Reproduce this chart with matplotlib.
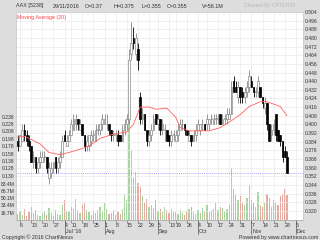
import matplotlib
matplotlib.use('Agg')
import matplotlib.pyplot as plt
import pandas as pd
import numpy as np

plt.rcParams['font.family'] = ['Liberation Sans', 'DejaVu Sans']

# trading days (Bursa Malaysia) from 3 Jun 2016, holidays removed
holidays = ['2016-07-06', '2016-07-07', '2016-08-31', '2016-09-12', '2016-09-16', '2016-10-03']
days = pd.bdate_range('2016-06-03', '2016-12-09')
days = days[~days.isin(pd.to_datetime(holidays))]

opens = [0.385, 0.380, 0.385, 0.395, 0.390, 0.385, 0.380, 0.365, 0.370, 0.360, 0.365,
         0.365, 0.370, 0.370, 0.350, 0.355, 0.360, 0.370, 0.360, 0.365, 0.370, 0.390,
         0.380, 0.385, 0.390, 0.395, 0.400, 0.405, 0.395, 0.400, 0.390, 0.380, 0.380,
         0.385, 0.390, 0.385, 0.395, 0.395, 0.400, 0.400, 0.400, 0.400, 0.395, 0.390,
         0.390, 0.390, 0.390, 0.385, 0.395, 0.400, 0.405, 0.465, 0.480, 0.465, 0.470,
         0.425, 0.405, 0.410, 0.395, 0.385, 0.390, 0.395, 0.410, 0.400, 0.405, 0.395,
         0.395, 0.395, 0.390, 0.385, 0.390, 0.385, 0.390, 0.395, 0.400, 0.400, 0.395,
         0.385, 0.390, 0.385, 0.390, 0.395, 0.395, 0.400, 0.400, 0.400, 0.400, 0.405,
         0.400, 0.405, 0.405, 0.410, 0.400, 0.405, 0.405, 0.405, 0.410, 0.440, 0.435,
         0.425, 0.435, 0.430, 0.425, 0.430, 0.435, 0.440, 0.435, 0.430, 0.430, 0.435,
         0.425, 0.415, 0.420, 0.400, 0.390, 0.395, 0.410, 0.395, 0.390, 0.385, 0.375,
         0.370]
highs = [0.390, 0.390, 0.400, 0.400, 0.395, 0.390, 0.380, 0.375, 0.370, 0.370, 0.375,
         0.375, 0.375, 0.370, 0.365, 0.365, 0.365, 0.370, 0.370, 0.375, 0.390, 0.395,
         0.390, 0.395, 0.405, 0.410, 0.410, 0.405, 0.405, 0.400, 0.390, 0.390, 0.390,
         0.395, 0.395, 0.400, 0.400, 0.400, 0.410, 0.410, 0.410, 0.400, 0.395, 0.395,
         0.395, 0.395, 0.390, 0.400, 0.405, 0.410, 0.470, 0.495, 0.490, 0.485, 0.475,
         0.430, 0.415, 0.410, 0.395, 0.395, 0.400, 0.410, 0.410, 0.410, 0.405, 0.405,
         0.400, 0.395, 0.390, 0.395, 0.395, 0.395, 0.400, 0.405, 0.405, 0.400, 0.395,
         0.395, 0.390, 0.395, 0.400, 0.405, 0.400, 0.405, 0.400, 0.410, 0.405, 0.410,
         0.410, 0.410, 0.410, 0.410, 0.410, 0.410, 0.415, 0.415, 0.440, 0.445, 0.440,
         0.440, 0.435, 0.435, 0.435, 0.440, 0.450, 0.445, 0.435, 0.435, 0.445, 0.435,
         0.425, 0.425, 0.420, 0.400, 0.400, 0.405, 0.410, 0.395, 0.390, 0.385, 0.380,
         0.375]
lows = [0.375, 0.380, 0.385, 0.385, 0.380, 0.375, 0.365, 0.360, 0.355, 0.355, 0.360,
        0.365, 0.365, 0.355, 0.345, 0.350, 0.355, 0.355, 0.355, 0.360, 0.370, 0.385,
        0.380, 0.385, 0.390, 0.395, 0.395, 0.395, 0.395, 0.390, 0.375, 0.375, 0.375,
        0.380, 0.385, 0.385, 0.390, 0.390, 0.395, 0.400, 0.395, 0.390, 0.385, 0.385,
        0.385, 0.380, 0.385, 0.385, 0.390, 0.395, 0.400, 0.460, 0.470, 0.460, 0.450,
        0.400, 0.400, 0.395, 0.380, 0.380, 0.385, 0.395, 0.400, 0.395, 0.390, 0.390,
        0.385, 0.385, 0.380, 0.380, 0.385, 0.385, 0.385, 0.395, 0.395, 0.390, 0.390,
        0.385, 0.380, 0.385, 0.385, 0.395, 0.390, 0.395, 0.395, 0.395, 0.395, 0.400,
        0.400, 0.400, 0.400, 0.400, 0.400, 0.400, 0.400, 0.405, 0.410, 0.430, 0.430,
        0.420, 0.420, 0.420, 0.420, 0.425, 0.430, 0.435, 0.425, 0.425, 0.425, 0.425,
        0.415, 0.410, 0.395, 0.385, 0.385, 0.390, 0.385, 0.385, 0.380, 0.365, 0.370,
        0.355]
closes = [0.380, 0.390, 0.395, 0.390, 0.385, 0.380, 0.365, 0.370, 0.360, 0.365, 0.370,
          0.370, 0.370, 0.360, 0.360, 0.360, 0.365, 0.360, 0.365, 0.370, 0.385, 0.385,
          0.385, 0.390, 0.400, 0.405, 0.405, 0.400, 0.400, 0.390, 0.380, 0.385, 0.390,
          0.390, 0.390, 0.395, 0.395, 0.400, 0.405, 0.405, 0.400, 0.395, 0.390, 0.390,
          0.390, 0.385, 0.385, 0.395, 0.400, 0.405, 0.460, 0.475, 0.475, 0.480, 0.460,
          0.405, 0.410, 0.395, 0.385, 0.390, 0.395, 0.405, 0.400, 0.405, 0.395, 0.400,
          0.395, 0.385, 0.385, 0.390, 0.390, 0.390, 0.395, 0.400, 0.400, 0.395, 0.390,
          0.390, 0.385, 0.390, 0.395, 0.400, 0.400, 0.400, 0.395, 0.405, 0.405, 0.405,
          0.405, 0.405, 0.405, 0.400, 0.405, 0.405, 0.410, 0.410, 0.435, 0.430, 0.430,
          0.435, 0.425, 0.425, 0.430, 0.435, 0.445, 0.435, 0.430, 0.430, 0.440, 0.425,
          0.420, 0.420, 0.400, 0.385, 0.395, 0.400, 0.390, 0.385, 0.385, 0.370, 0.370,
          0.355]
volumes = [14, 20, 12, 25, 10, 18, 30, 15, 22, 12, 9, 16, 20, 12, 28, 15, 10, 24, 14, 12,
           35, 45, 20, 18, 30, 26, 48, 22, 16, 34, 40, 24, 18, 12, 20, 15, 22, 30, 18, 40,
           25, 14, 16, 22, 12, 18, 14, 26, 60, 45, 250, 160, 95, 110, 85, 75, 55, 40, 48,
           30, 35, 28, 45, 20, 26, 18, 30, 22, 16, 25, 20, 18, 14, 22, 16, 12, 20, 25,
           30, 18, 14, 24, 16, 28, 20, 35, 18, 24, 26, 40, 22, 30, 28, 20, 25, 35, 120,
           70, 60, 45, 55, 40, 35, 50, 80, 45, 40, 30, 65, 35, 30, 40, 60, 50, 30, 45,
           40, 35, 55, 60, 72, 58.1]

# moving average (20): day position (0 = 6 Jun), value
ma_idx = [-1, 2, 9, 13, 18, 22, 27, 31, 36, 42, 48, 51, 54, 58, 61, 66, 70, 72, 76,
          85, 90, 94, 99, 103, 108, 111, 117, 120]
ma_val = [0.388, 0.389, 0.382, 0.374, 0.372, 0.374, 0.377, 0.380, 0.387, 0.391,
          0.393, 0.400, 0.416, 0.416, 0.414, 0.415, 0.4065, 0.397, 0.394, 0.394,
          0.397, 0.402, 0.409, 0.4165, 0.421, 0.421, 0.4165, 0.408]

right_ticks = [0.320, 0.328, 0.336, 0.344, 0.352, 0.360, 0.368, 0.376, 0.384, 0.392,
               0.400, 0.408, 0.416, 0.424, 0.432, 0.440, 0.448, 0.456, 0.464, 0.472,
               0.480, 0.488, 0.496, 0.504]
vol_ticks = [16.7, 33.4, 50.1, 66.7, 83.4]
left_labels = ['0.238', '0.228', '0.208', '0.198', '0.178', '0.158', '0.138', '0.128', '0.130']

# position of each trading day, 0 = 6 Jun (first day, 3 Jun, sits at -1)
pos = np.arange(len(days)) - 1
x = pos[:len(closes)]

fig = plt.figure(figsize=(3.2, 2.4), dpi=100, facecolor='#dddddd')
vax = fig.add_axes([16/320, 20/240, 287/320, 208/240])
ax = vax.twinx()
ax.set_zorder(vax.get_zorder() + 1)
ax.patch.set_visible(False)
vax.set_facecolor('white')

# volume
up = np.array(closes) >= np.array(opens)
vcol = np.where(up, '#a8d4a0', '#e4aaa0')
vax.bar(x, volumes, width=0.55, color=vcol, zorder=1)
vax.set_ylim(0, 476)
vax.set_yticks(vol_ticks)
vax.set_yticklabels([f'{v}M' for v in vol_ticks])

# candles
o = np.array(opens); c = np.array(closes); h = np.array(highs); l = np.array(lows)
wick_col = np.where(up, '#888888', '#000000')
ax.vlines(x, l, h, colors=wick_col, linewidth=0.6, zorder=3)
body_lo = np.minimum(o, c)
body_h = np.maximum(np.abs(c - o), 0.0008)
ax.bar(x, body_h, bottom=body_lo, width=0.75, color=np.where(up, 'white', 'black'),
       edgecolor=np.where(up, '#888888', '#000000'), linewidth=0.5, zorder=4)

ax.plot(ma_idx, ma_val, color='#ff6060', linewidth=0.6, zorder=5)
ax.axhline(closes[-1], color='#8888ff', linestyle=(0, (1, 1.5)), linewidth=0.6, zorder=2)

ax.set_ylim(0.3115, 0.5025)
ax.set_yticks(right_ticks)
ax.set_yticklabels([f'{t:.3f}' for t in right_ticks])
vax.set_xlim(-1.8, 127.2)

# weekly ticks = first trading day of each week
wk = days.isocalendar().week.values
first_of_week = [k for k in range(1, len(days)) if wk[k] != wk[k - 1]]
vax.set_xticks(pos[first_of_week])
vax.set_xticklabels([str(days[k].day) for k in first_of_week], ha='left')

months = {7: "Jul '16", 8: 'Aug', 9: 'Sep', 10: 'Oct', 11: 'Nov', 12: 'Dec'}
prev_m = days[first_of_week[0]].month
for k in first_of_week[1:]:
    if days[k].month != prev_m:
        vax.plot([pos[k], pos[k]], [0, -0.065], transform=vax.get_xaxis_transform(),
                 color='#555555', linewidth=0.5, clip_on=False)
        vax.text(pos[k] + 0.5, -0.043, months[days[k].month], transform=vax.get_xaxis_transform(),
                 fontsize=3.8, color='#333333', va='top')
    prev_m = days[k].month

vax.grid(True, axis='x', color='#eaeaea', linewidth=0.5)
ax.grid(True, axis='y', color='#eaeaea', linewidth=0.5)
vax.set_axisbelow(True)

for a in (ax, vax):
    for s in a.spines.values():
        s.set_color('#cccccc')
        s.set_linewidth(0.5)
vax.spines['bottom'].set_color('#555555')
vax.tick_params(axis='x', length=2, width=0.4, pad=0.0, labelsize=3.8, labelcolor='#333333', color='#555555')
vax.tick_params(axis='y', length=0, pad=1, labelsize=3.6, labelcolor='#333333')
ax.tick_params(axis='y', length=0, pad=1.5, labelsize=3.6, labelcolor='#333333')

# left price labels
for k, lab in enumerate(left_labels):
    fig.text(14/320, 1 - (117 + k * 7.4) / 240, lab, fontsize=3.6, color='#333333',
             ha='right', va='center')

# header
hdr = [(16, 'AAX [5238]'), (53, '29/11/2016'), (85, 'O=0.37'), (114, 'H=0.375'),
       (141, 'L=0.355'), (167, 'C=0.355'), (202, 'V=58.1M')]
for px, t in hdr:
    fig.text(px/320, 1 - 6/240, t, fontsize=3.9, color='#333333', va='center')
fig.text(295/320, 1 - 6/240, 'Charted By CPTEH38', fontsize=3.8, color='#bbbbbb', va='center', ha='right')
ax.text(0.004, 0.985, 'Moving Average (20)', transform=ax.transAxes, fontsize=3.8,
        color='#ff4040', va='top')
fig.text(2/320, 1 - 237/240, 'Copyright \u00a9 2016 ChartNexus', fontsize=3.8, color='#333333', va='center')
fig.text(318/320, 1 - 237/240, 'Powered by www.chartnexus.com', fontsize=3.8, color='#333333',
         va='center', ha='right')

fig.savefig('out.png', dpi=100, facecolor=fig.get_facecolor())
